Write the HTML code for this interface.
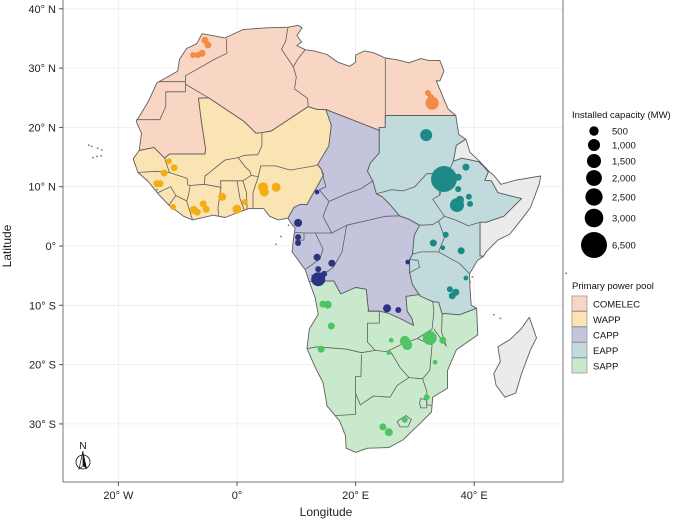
<!DOCTYPE html>
<html><head><meta charset="utf-8"><style>
body{margin:0;background:#fff;}
svg{display:block;font-family:"Liberation Sans",Arial,sans-serif;}
</style></head><body>
<svg id="chart" width="685" height="524" viewBox="0 0 685 524">
<g id="grid"></g>
<g id="land"></g>
<g id="borders"></g>
<g id="pts"></g>
<g id="axes"></g>
<g id="legend"></g>
</svg>
<script>
// ---- data ----
const lonTicks = [-20, 0, 20, 40];
const lonLabels = ["20° W", "0°", "20° E", "40° E"];
const latTicks = [40, 30, 20, 10, 0, -10, -20, -30];
const latLabels = ["40° N", "30° N", "20° N", "10° N", "0°", "10° S", "20° S", "30° S"];
const pools = ["COMELEC", "WAPP", "CAPP", "EAPP", "SAPP"];
const sizeBreaks = [500, 1000, 1500, 2000, 2500, 3000, 6500];
const sizeLabels = ["500", "1,000", "1,500", "2,000", "2,500", "3,000", "6,500"];
const plantLon = {
 COMELEC:[-5.4,-4.9,-5.9,-6.6,-7.4,32.9,32.2,32.7],
 WAPP:[-11.5,-10.6,-12.3,-13.5,-13.0,-10.8,-7.3,-6.7,-5.7,-5.2,-2.5,0.0,1.3,4.4,4.6,6.6],
 CAPP:[13.5,10.3,10.3,10.3,13.5,16.0,13.7,13.7,14.7,25.3,27.2,28.8],
 EAPP:[31.9,34.9,37.3,38.6,37.3,37.1,37.6,39.1,39.3,35.2,33.1,34.7,37.8,38.6,35.9,36.9,36.3],
 SAPP:[14.5,15.3,15.9,14.2,26.0,28.3,28.7,32.5,34.7,25.6,33.4,32.0,28.3,24.6,25.6]
};
const plantLat = {
 COMELEC:[34.7,33.9,32.5,32.2,32.2,24.1,25.8,25.1],
 WAPP:[14.3,13.2,12.3,10.5,10.5,6.6,6.1,5.7,7.1,6.2,8.3,6.2,7.4,9.9,9.1,9.9],
 CAPP:[9.1,3.9,1.5,0.5,-1.9,-2.9,-3.9,-5.6,-4.7,-10.5,-10.8,-2.7],
 EAPP:[18.7,11.3,11.6,13.3,9.6,6.9,7.8,8.3,7.1,1.9,0.5,-0.3,-0.8,-5.4,-7.3,-7.8,-8.4],
 SAPP:[-9.8,-9.9,-13.5,-17.4,-15.9,-16.0,-16.7,-15.5,-15.9,-18.0,-19.6,-25.5,-29.3,-30.5,-31.4]
};
const plantMW = {
 COMELEC:[197,197,197,110,110,1300,110,110],
 WAPP:[110,197,197,197,197,110,307,197,197,197,307,442,110,602,442,442],
 CAPP:[40,307,110,110,197,197,110,1490,110,307,110,40],
 EAPP:[995,6450,197,197,110,1490,307,110,110,110,197,40,197,40,110,197,197],
 SAPP:[197,307,197,197,40,602,602,1490,197,40,40,110,110,197,307]
};
// ---- geometry (lon/lat) ----
const shapes = {
 COMELEC:[[-16.5,16.1],[-16.1,19],[-17,21],[-15,24.3],[-13.5,27.5],[-10,29.5],[-9.7,31.5],[-8.5,33.3],[-6.8,34.1],[-5.9,35.8],[-2,35.1],[1,36.5],[5,36.8],[8.6,36.9],[10.3,37.2],[11,36.8],[10.1,35.5],[10.9,34.4],[10.1,33.8],[11.5,33.1],[13,32.9],[15.2,32.3],[17,31],[19,30.3],[20,31],[20,32.2],[21.5,32.9],[23,32.6],[25,31.7],[27,31.4],[29,30.9],[31,31.6],[32.3,31.3],[34.2,31.3],[34.9,29.5],[34.2,27.8],[33.6,27.9],[35,24.5],[35.6,23.1],[36.9,22],[25,22],[25,20],[24,20],[24,19.5],[15,23],[13.5,23],[12,23.5],[5.8,19.4],[4.2,19.1],[3.2,19],[1.2,21],[-4.8,25],[-6.5,24.9],[-6,21],[-5.3,16.4],[-5.4,15.5],[-11.4,15.5],[-12.2,14.8],[-14,16.6]],
 WAPP:[[-16.5,16.1],[-14,16.6],[-12.2,14.8],[-11.4,15.5],[-5.4,15.5],[-5.3,16.4],[-6,21],[-6.5,24.9],[-4.8,25],[1.2,21],[3.2,19],[4.2,19.1],[5.8,19.4],[12,23.5],[13.5,23],[15,23],[15.9,20.4],[15.5,16.9],[13.6,13.7],[14.2,13],[14.6,12],[13.5,10],[12.8,8.8],[11.8,7],[10.6,7],[9.6,6.5],[8.6,4.7],[7,4.4],[5.5,5],[4.5,6.3],[2,6.3],[0,5.6],[-2,4.8],[-4,5.2],[-7.5,4.4],[-9,5],[-11.5,6.9],[-13.3,8.8],[-15,10.9],[-16.7,12.4],[-17.5,14.7],[-16.5,16.1]],
 CAPP:[[14.2,13],[13.6,13.7],[15.5,16.9],[15.9,20.4],[15,23],[24,19.5],[24,15.7],[22.5,14],[22,12.6],[22.9,11],[23.5,8.8],[24.5,8.3],[25.8,7],[27.4,5.1],[29,4.5],[30.8,3.5],[29.9,1.8],[29.6,-1.4],[29.1,-2.3],[29.1,-4.5],[29.6,-6.5],[30.7,-8.2],[28.5,-8.5],[28.7,-11],[29.5,-12.2],[29.8,-13.4],[27.6,-12.3],[25.4,-11.3],[24,-11],[22.2,-11],[22,-9.5],[21.8,-7.3],[20,-7],[17.5,-8.1],[16.3,-5.9],[13,-5.9],[12.2,-6],[11.5,-4],[9.3,-1],[9.5,1],[9.8,3],[9,4],[8.6,4.7],[9.6,6.5],[10.6,7],[11.8,7],[12.8,8.8],[13.5,10],[14.6,12]],
 EAPP:[[25,22],[36.9,22],[37.4,18.8],[38.6,18],[37,17],[36.5,14.3],[37.9,14.8],[39,14.6],[40.8,14.2],[41.7,13.3],[42.4,12.5],[41.8,11.1],[42.9,11],[44,9],[48,8],[45,5],[42,4],[41,4],[41,-1.7],[41.6,-1.7],[40.5,-2.5],[39.2,-4.7],[39.3,-7],[39.5,-10],[40.4,-10.5],[37.5,-11.6],[35,-11.4],[34.6,-11.5],[34,-9.5],[33,-9.4],[31,-8.5],[30.7,-8.2],[29.6,-6.5],[29.1,-4.5],[29.1,-2.3],[29.6,-1.4],[29.9,1.8],[30.8,3.5],[29,4.5],[27.4,5.1],[25.8,7],[24.5,8.3],[23.5,8.8],[22.9,11],[22,12.6],[22.5,14],[24,15.7],[24,19.5],[24,20],[25,20]],
 SAPP:[[12.2,-6],[13.2,-8.8],[13.7,-11.5],[12.2,-14],[11.8,-17.3],[13.2,-20.5],[14.5,-23],[15.2,-27],[17.3,-29.5],[18.3,-32],[18.4,-34.1],[20,-34.8],[22,-34.1],[25.6,-34],[28,-32.7],[31,-29.8],[32.8,-28],[33,-25.5],[35.5,-24],[35.5,-21],[37,-17.5],[40.6,-15],[40.4,-10.5],[37.5,-11.6],[35,-11.4],[34.6,-11.5],[34,-9.5],[33,-9.4],[31,-8.5],[30.7,-8.2],[28.5,-8.5],[28.7,-11],[29.5,-12.2],[29.8,-13.4],[27.6,-12.3],[25.4,-11.3],[24,-11],[22.2,-11],[22,-9.5],[21.8,-7.3],[20,-7],[17.5,-8.1],[16.3,-5.9],[13,-5.9]],
 OTHER:[[38.6,18],[39.3,15.8],[41,14.2],[42.6,12.5],[43.3,11.9],[44.5,10.4],[47,11.1],[51.2,11.8],[51,10.5],[49.5,6.5],[48,4.5],[46,2],[44,1],[42,-1],[41.6,-1.7],[41,-1.7],[41,4],[42,4],[45,5],[48,8],[44,9],[42.9,11],[41.8,11.1],[42.4,12.5],[41.7,13.3],[40.8,14.2],[39,14.6],[37.9,14.8],[36.5,14.3],[37,17]],
 MADAGASCAR:[[49.3,-12],[50.5,-15.5],[49.5,-17.5],[48,-21.5],[47,-24.8],[45.2,-25.5],[43.7,-23.5],[43.3,-21.5],[44.4,-19.5],[44,-17],[46,-15.8],[47.9,-14]]
};
const fills = {COMELEC:"#f9d6c3",WAPP:"#fbe4b4",CAPP:"#c5c4dd",EAPP:"#c1dbdd",SAPP:"#c9e9cd",OTHER:"#ebebeb",MADAGASCAR:"#ebebeb"};
const dotCol = {COMELEC:"#f58a45",WAPP:"#f4ad14",CAPP:"#2b3383",EAPP:"#1e8a88",SAPP:"#50c463"};
const borderLines = [
 [[-1.8,35],[-1.7,32.5],[-3.6,31.6],[-8.7,28.7],[-8.7,27.3]],
 [[-8.7,27.7],[-13.2,27.7]],
 [[-8.7,27.3],[-8.7,26],[-12,26],[-12,23.5],[-13,21.3],[-17,21.3]],
 [[-8.7,27.3],[-4.8,25]],
 [[8.6,36.9],[8.2,34.5],[7.5,33.2],[9.5,30.2]],
 [[11.5,33.1],[10.3,31.6],[9.5,30.2],[10,28.5],[9.7,26.5],[11.9,24.9],[12,23.5]],
 [[25,31.6],[25,22]],
 [[-12.2,14.8],[-11.4,12.4]],
 [[-16.7,12.4],[-13.7,12.6],[-11.4,12.4],[-8.4,11.4],[-8.3,10.3],[-7.9,10.2]],
 [[-13.3,9.0],[-11.2,10],[-10.3,8.5],[-8.5,7.6],[-8.2,8.5],[-7.9,10.2]],
 [[-11.5,6.9],[-10.3,8.5]],[[-7.5,4.4],[-8.5,7.6]],
 [[-7.9,10.2],[-5.5,10.4],[-2.7,9.9]],
 [[-2.7,9.9],[-3.2,6.5],[-3.1,5.1]],
 [[-5.5,10.4],[-5.4,11.8],[-4.4,12.6],[-2,14.5],[0.2,14.9],[1.3,15.3],[3.5,15.4],[4.2,16.9],[4.2,19.1]],
 [[0.2,14.9],[1.4,13.3],[2.2,12.6],[2.4,11.9],[3.6,11.7]],
 [[-2.7,9.9],[-2.8,11],[0,11],[1,11],[2.4,11.9]],
 [[0,11],[0.5,8],[1.2,6.1]],[[1,11],[1.6,9],[1.7,6.2]],
 [[3.6,11.7],[2.7,9],[2.7,6.4]],
 [[3.6,11.7],[4,13.5],[6.5,13.5],[9,12.8],[13,13.5],[13.6,13.7]],
 [[14.2,13],[15,10],[13.9,9.5],[15.5,7.5],[14.5,5],[16,2.2]],
 [[15.5,7.5],[18.5,8.8],[21,9.7],[22.9,11]],
 [[16,2.2],[13,2.2],[11.3,2.2],[9.8,2.3]],
 [[16,2.2],[18.5,3.5],[22,4.3],[25,5],[27.4,5.1]],
 [[18.5,3.5],[17.7,-1],[16.3,-3.5],[15.3,-4.3],[12.5,-5]],
 [[13.2,2.2],[14.5,-0.5],[14,-2.2],[11.6,-3.9]],
 [[9.8,1],[11.3,1],[11.3,2.2]],
 [[23.5,8.8],[26,9.5],[28,9.3],[30,10],[32,12.2],[33.2,12.2],[34,9.5],[34.2,8.6]],
 [[34.2,8.6],[33,7.9],[35,5]],[[36.5,14.3],[35,11],[34.2,8.6]],
 [[30.8,3.5],[33,3.6],[34,4.2],[35,5]],
 [[35,5],[36.8,4.4],[39,3.4],[41,4]],
 [[34,4.2],[35,1.5],[34,-1]],
 [[29.6,-1.4],[31,-1],[34,-1]],
 [[34,-1],[37.6,-3],[39.2,-4.7]],
 [[29.1,-2.3],[30.5,-2.4],[30.8,-3.6],[29.1,-4.5]],
 [[11.8,-17.3],[13.5,-17],[18.5,-17.4],[21,-18],[23.3,-17.6],[25.2,-17.8]],
 [[22,-11],[24,-11],[24,-13],[22,-13],[22,-16.2],[23.3,-17.6]],
 [[25.2,-17.8],[28,-16.5],[30.4,-15.6],[32.9,-14],[33.2,-11],[33,-9.4]],
 [[34.6,-11.5],[34.5,-14.5],[35.3,-16.9],[33.2,-14]],
 [[30.4,-15.6],[32.9,-16.7],[32.5,-21],[31.3,-22.4],[29,-22.2],[27.5,-20.5],[26,-18],[25.2,-17.8]],
 [[21,-18.3],[20.9,-22],[20,-22],[20,-24.8],[20,-28.4],[16.5,-28.6]],
 [[20,-24.8],[20.8,-26.8],[23,-25.3],[25.8,-25.5],[27,-23.5],[29,-22.2]],
 [[31.3,-22.4],[32,-24.5],[32,-26.8],[32.9,-26.9]],
 [[27,-29.6],[28.5,-28.6],[29.4,-29.3],[28.8,-30.5],[27.5,-30.5],[27,-29.6]],
 [[31,-25.7],[32,-26],[32,-27.3],[31,-27.3],[30.8,-26.5],[31,-25.7]]
];
const islands = [[-24.5,16.8],[-23.5,16.5],[-22.8,16.2],[-23.6,15.1],[-24.3,14.9],[-22.9,15.2],[-25,17],[6.6,0.3],[7.4,1.6],[8.7,3.5],[39.3,-6.1],[39.7,-5.2],[43.3,-11.6],[44.4,-12.2],[55.5,-4.6],[-13.5,9.5]];

// ---- scales ----
const X0 = 237, Y0 = 246, K = 5.93;
function px(lon){ return X0 + K*lon; }
function py(lat){ return Y0 - K*lat; }
function rad(mw){ return 1.5 + 11.5*Math.sqrt(mw/6500); }
const NS = "http://www.w3.org/2000/svg";
function mk(tag, attrs, parent){ const e=document.createElementNS(NS,tag); for(const k in attrs) e.setAttribute(k,attrs[k]); parent.appendChild(e); return e; }
const L=63, R=563, T=0, B=482;

// grid
const grid=document.getElementById('grid');
lonTicks.forEach((v,i)=>{ const l=mk('line',{x1:px(v),x2:px(v),y1:T,y2:B,stroke:'#ececec','stroke-width':0.8},grid);
 
  });
latTicks.forEach((v,i)=>{ const l=mk('line',{x1:L,x2:R,y1:py(v),y2:py(v),stroke:'#ececec','stroke-width':0.8},grid);
 
  });

// land
const land=document.getElementById('land');
function pts(arr){ return arr.map(p=>px(p[0]).toFixed(1)+','+py(p[1]).toFixed(1)).join(' '); }
Object.keys(shapes).forEach(k=>{ const e=mk('polygon',{points:pts(shapes[k]),fill:fills[k],stroke:'#5e5e5e','stroke-width':0.9,'stroke-linejoin':'round'},land);
 
  });
islands.forEach(p=>{ const e=mk('circle',{cx:px(p[0]),cy:py(p[1]),r:0.9,fill:'#777'},land);
 
  });
const bd=document.getElementById('borders');
borderLines.forEach(b=>{ const e=mk('polyline',{points:pts(b),fill:'none',stroke:'#5e5e5e','stroke-width':0.8,'stroke-linejoin':'round'},bd);
 
  });

// points
const pg=document.getElementById('pts');
pools.forEach(p=>{ plantLon[p].forEach((lon,i)=>{
 const c=mk('circle',{cx:px(lon),cy:py(plantLat[p][i]),r:rad(plantMW[p][i]).toFixed(2),fill:dotCol[p]},pg);
 
 
});});

// axes
const ax=document.getElementById('axes');
mk('line',{x1:L,x2:L,y1:T,y2:B,stroke:'#777','stroke-width':1},ax);
mk('line',{x1:L,x2:R,y1:B,y2:B,stroke:'#777','stroke-width':1},ax);
mk('line',{x1:R,x2:R,y1:T,y2:B,stroke:'#777','stroke-width':1},ax);
lonTicks.forEach((v,i)=>{ mk('line',{x1:px(v),x2:px(v),y1:B,y2:B+4,stroke:'#555'},ax);
 const t=mk('text',{x:px(v),y:B+17,'text-anchor':'middle','font-size':11,fill:'#222'},ax); t.textContent=lonLabels[i];
 
  });
latTicks.forEach((v,i)=>{ mk('line',{x1:L-4,x2:L,y1:py(v),y2:py(v),stroke:'#555'},ax);
 const t=mk('text',{x:L-7,y:py(v)+4,'text-anchor':'end','font-size':11,fill:'#222'},ax); t.textContent=latLabels[i];
 
  });
const xt=mk('text',{x:326,y:516,'text-anchor':'middle','font-size':12,fill:'#222'},ax); xt.textContent='Longitude';


const yt=mk('text',{x:0,y:0,transform:'translate(11,246) rotate(-90)','text-anchor':'middle','font-size':12,fill:'#222'},ax); yt.textContent='Latitude';


// compass
const cg=mk('g',{},ax);


const nt=mk('text',{x:83,y:449,'text-anchor':'middle','font-size':10,fill:'#111'},cg); nt.textContent='N';
mk('circle',{cx:83,cy:462,r:7,fill:'none',stroke:'#111','stroke-width':0.8},cg);
mk('polygon',{points:'83,451 79,469 83,466',fill:'#fff',stroke:'#111','stroke-width':0.7},cg);
mk('polygon',{points:'83,451 87,469 83,466',fill:'#111'},cg);

// legend
const lg=document.getElementById('legend');
const t1=mk('text',{x:572,y:118,'font-size':9.5,fill:'#111'},lg); t1.textContent='Installed capacity (MW)';


const sizeY=[131,145,161,178,197,218,245];
sizeBreaks.forEach((v,i)=>{ const c=mk('circle',{cx:594,cy:sizeY[i],r:rad(v).toFixed(2),fill:'#000'},lg);
 
 
 const t=mk('text',{x:612,y:sizeY[i]+3.5,'font-size':9.5,fill:'#111'},lg); t.textContent=sizeLabels[i];
 
  });
const t2=mk('text',{x:572,y:289,'font-size':9.5,fill:'#111'},lg); t2.textContent='Primary power pool';


pools.forEach((p,i)=>{ const y=296+i*15.5;
 const r=mk('rect',{x:572,y:y,width:15,height:15,fill:fills[p],stroke:'#999','stroke-width':0.8},lg);
 
 
 const t=mk('text',{x:593,y:y+11.5,'font-size':9.5,fill:'#111'},lg); t.textContent=p;
 
  });
</script>
</body></html>
